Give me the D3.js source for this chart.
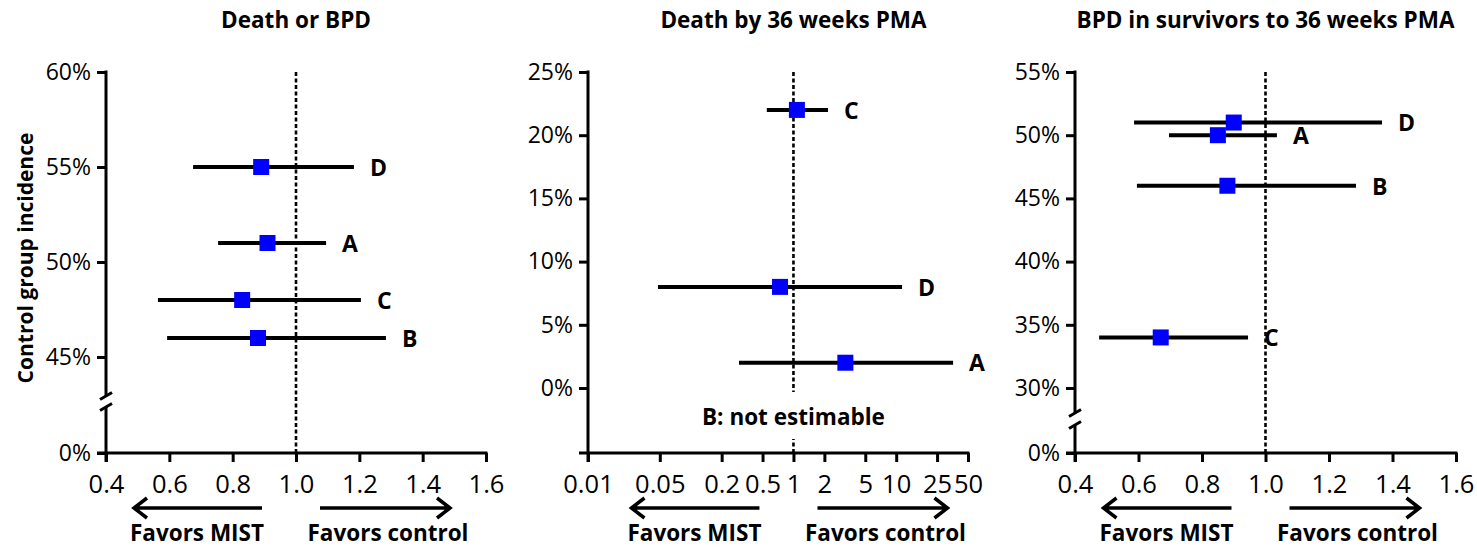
<!DOCTYPE html>
<html lang="en">
<head>
<meta charset="UTF-8">
<title>MIST forest plots</title>
<script src="https://cdn.jsdelivr.net/npm/d3@7"></script>
<style>
  body { margin: 0; background: #fff; }
  text { font-family: "Open Sans", sans-serif; fill: #000; }
</style>
</head>
<body>
<div id="output"></div>
<script>

// --- Death or BPD
var deathBpdStudies   = ["D", "A", "C", "B"];
var deathBpdIncidence = [55, 51, 48, 46];
var deathBpdEst       = [0.89, 0.91, 0.83, 0.88];
var deathBpdLow       = [0.675, 0.754, 0.564, 0.593];
var deathBpdHigh      = [1.183, 1.095, 1.205, 1.284];

// --- Death by 36 weeks PMA (B not estimable)
var deathStudies   = ["C", "D", "A"];
var deathIncidence = [22, 8, 2];
var deathEst       = [1.08, 0.74, 3.2];
var deathLow       = [0.55, 0.048, 0.295];
var deathHigh      = [2.17, 11.4, 35.8];

// --- BPD in survivors
var bpdStudies   = ["D", "A", "B", "C"];
var bpdIncidence = [51, 50, 46, 34];
var bpdEst       = [0.90, 0.85, 0.88, 0.67];
var bpdLow       = [0.586, 0.696, 0.595, 0.476];
var bpdHigh      = [1.367, 1.036, 1.285, 0.945];

var linearTicks = [0.4, 0.6, 0.8, 1.0, 1.2, 1.4, 1.6];
var logTicks    = [0.01, 0.05, 0.2, 0.5, 1, 2, 5, 10, 25, 50];
var deathBpdYTicks = [0, 45, 50, 55, 60];
var deathYTicks    = [0, 5, 10, 15, 20, 25];
var bpdYTicks      = [0, 30, 35, 40, 45, 50, 55];

function rows(studies, inc, est, lo, hi) {
    return studies.map(function(s, i) {
        return { study: s, inc: inc[i], est: est[i], lo: lo[i], hi: hi[i] };
    });
}

var w = 1477;
var h = 548;
var axisY = 453;
var boldSize = "22.5px";

var svg = d3.select("#output")
    .append("svg")
    .attr("width", w)
    .attr("height", h);

var panels = [
    {
        title: "Death or BPD",
        data: rows(deathBpdStudies, deathBpdIncidence, deathBpdEst, deathBpdLow, deathBpdHigh),
        x: d3.scaleLinear().domain([0.4, 1.6]).range([106, 486]),
        y: d3.scaleLinear().domain([0, 45, 60]).range([axisY, 357, 72]),
        xTicks: linearTicks,
        xFormat: d3.format(".1f"),
        yTicks: deathBpdYTicks,
        brk: [396, 407],
        yLabel: "Control group incidence"
    },
    {
        title: "Death by 36 weeks PMA",
        data: rows(deathStudies, deathIncidence, deathEst, deathLow, deathHigh),
        x: d3.scaleLog().domain([0.01, 50]).range([588, 968]),
        y: d3.scaleLinear().domain([0, 25]).range([388, 72]),
        xTicks: logTicks,
        xFormat: function(d) { return String(d); },
        yTicks: deathYTicks,
        brk: null,
        note: "B: not estimable"
    },
    {
        title: "BPD in survivors to 36 weeks PMA",
        data: rows(bpdStudies, bpdIncidence, bpdEst, bpdLow, bpdHigh),
        x: d3.scaleLinear().domain([0.4, 1.6]).range([1075, 1456]),
        y: d3.scaleLinear().domain([0, 30, 55]).range([axisY, 388, 72]),
        xTicks: linearTicks,
        xFormat: d3.format(".1f"),
        yTicks: bpdYTicks,
        brk: [413, 425]
    }
];

panels.forEach(drawPanel);

function drawPanel(p) {
    var g = svg.append("g");
    var x = p.x, y = p.y;
    var x0 = x.range()[0], x1 = x.range()[1];
    var top = y.range()[y.range().length - 1];
    var ref = x(1);

    // title
    g.append("text")
        .attr("x", ref)
        .attr("y", 28)
        .attr("text-anchor", "middle")
        .style("font-weight", "bold")
        .style("font-size", boldSize)
        .text(p.title);

    // y ticks
    var gy = g.append("g")
        .attr("transform", "translate(" + x0 + ",0)")
        .call(d3.axisLeft(y).tickValues(p.yTicks)
            .tickFormat(function(d) { return d + "%"; })
            .tickSize(9).tickPadding(6));
    gy.select(".domain").remove();
    gy.attr("font-family", null).attr("font-size", null);
    gy.selectAll("line").attr("stroke", "#000").attr("stroke-width", 3);
    gy.selectAll("text").style("font-size", "23px");

    // y axis line, broken if needed
    if (p.brk) {
        var b1 = p.brk[0], b2 = p.brk[1];
        g.append("line").attr("x1", x0).attr("x2", x0).attr("y1", top - 1.5).attr("y2", b1)
            .attr("stroke", "#000").attr("stroke-width", 3);
        g.append("line").attr("x1", x0).attr("x2", x0).attr("y1", b2).attr("y2", axisY + 9)
            .attr("stroke", "#000").attr("stroke-width", 3);
        [b1, b2].forEach(function(b) {
            g.append("line")
                .attr("x1", x0 - 6).attr("y1", b + 3.5)
                .attr("x2", x0 + 6).attr("y2", b - 3.5)
                .attr("stroke", "#000").attr("stroke-width", 3);
        });
    } else {
        g.append("line").attr("x1", x0).attr("x2", x0).attr("y1", top - 1.5).attr("y2", axisY + 9)
            .attr("stroke", "#000").attr("stroke-width", 3);
    }

    // x axis
    var gx = g.append("g")
        .attr("transform", "translate(0," + axisY + ")")
        .call(d3.axisBottom(x).tickValues(p.xTicks).tickFormat(p.xFormat)
            .tickSize(9).tickPadding(13).tickSizeOuter(0));
    gx.attr("font-family", null).attr("font-size", null);
    gx.select(".domain").attr("stroke", "#000").attr("stroke-width", 3)
        .attr("d", "M" + (x0 - 9) + ",0H" + (x1 + 1.5));
    gx.selectAll("line").attr("stroke", "#000").attr("stroke-width", 3);
    gx.selectAll("text").style("font-size", "25.5px");

    // reference line at 1
    g.append("line")
        .attr("x1", ref).attr("x2", ref)
        .attr("y1", top).attr("y2", axisY)
        .attr("stroke", "#000").attr("stroke-width", 2.6)
        .attr("stroke-dasharray", "4,2.5");

    if (p.note) {
        g.append("rect")
            .attr("x", ref - 6).attr("y", 392)
            .attr("width", 12).attr("height", 47)
            .attr("fill", "#fff");
        g.append("text")
            .attr("x", ref)
            .attr("y", 425)
            .attr("text-anchor", "middle")
            .style("font-weight", "bold")
            .style("font-size", boldSize)
            .text(p.note);
    }

    // confidence intervals
    var row = g.selectAll(".row").data(p.data).enter().append("g").attr("class", "row");
    row.append("line")
        .attr("x1", function(d) { return x(d.lo); })
        .attr("x2", function(d) { return x(d.hi); })
        .attr("y1", function(d) { return y(d.inc); })
        .attr("y2", function(d) { return y(d.inc); })
        .attr("stroke", "#000").attr("stroke-width", 4);
    row.append("rect")
        .attr("x", function(d) { return x(d.est) - 8; })
        .attr("y", function(d) { return y(d.inc) - 8; })
        .attr("width", 16).attr("height", 16)
        .attr("fill", "#0000ff");
    row.append("text")
        .attr("x", function(d) { return x(d.hi) + 16; })
        .attr("y", function(d) { return y(d.inc); })
        .attr("dy", "0.38em")
        .style("font-weight", "bold")
        .style("font-size", "23px")
        .text(function(d) { return d.study; });

    // favors arrows
    var ay = 508;
    [[ref - 34, ref - 162], [ref + 24, ref + 154]].forEach(function(a) {
        var dir = a[1] > a[0] ? 1 : -1;
        g.append("path")
            .attr("d", "M" + a[0] + "," + ay + "H" + a[1] +
                "M" + (a[1] - dir * 13) + "," + (ay - 10) + "L" + a[1] + "," + ay +
                "L" + (a[1] - dir * 13) + "," + (ay + 10))
            .attr("fill", "none").attr("stroke", "#000").attr("stroke-width", 3.5);
    });
    g.append("text").attr("x", ref - 99).attr("y", 541).attr("text-anchor", "middle")
        .style("font-weight", "bold").style("font-size", boldSize).text("Favors MIST");
    g.append("text").attr("x", ref + 92).attr("y", 541).attr("text-anchor", "middle")
        .style("font-weight", "bold").style("font-size", boldSize).text("Favors control");

    if (p.yLabel) {
        g.append("text")
            .attr("transform", "translate(33,258) rotate(-90)")
            .attr("text-anchor", "middle")
            .style("font-weight", "bold")
            .style("font-size", "21px")
            .text(p.yLabel);
    }
}

</script>
</body>
</html>
